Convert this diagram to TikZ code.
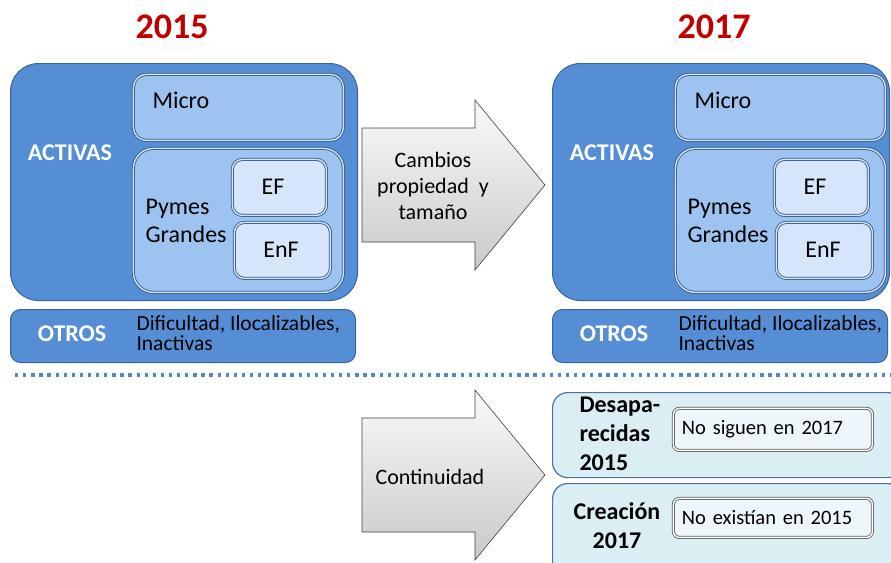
\documentclass[tikz,border=0pt]{standalone}
\usepackage{fontspec}
\setmainfont{Carlito}
\usetikzlibrary{positioning}

\definecolor{rojo}{RGB}{192,0,0}
\definecolor{azulfondo}{RGB}{85,142,213}
\definecolor{azulborde}{RGB}{58,98,156}
\definecolor{azulmedio}{RGB}{157,195,240}
\definecolor{azulclaro}{RGB}{214,229,249}
\definecolor{celeste}{RGB}{219,238,244}
\definecolor{celesteclaro}{RGB}{237,247,251}
\definecolor{puntos}{RGB}{79,134,204}

\tikzset{
  titulo/.style={text=rojo, font=\fontsize{36}{40}\selectfont\bfseries},
  caja/.style={draw=azulborde, line width=1pt, fill=azulfondo, anchor=north west, inner sep=0pt},
  subcaja/.style={draw=azulborde!85!black, line width=0.8pt, double=white!55!azulmedio,
    double distance=1.4pt, anchor=north west, inner sep=0pt},
  blanco/.style={text=white, font=\fontsize{24}{28}\selectfont\bfseries},
  txt/.style={font=\fontsize{24}{28}\selectfont, align=left},
  flecha/.style={draw=black!75, line width=0.6pt, top color=gray!4, bottom color=gray!42},
}

\begin{document}
\begin{tikzpicture}[x=1pt, y=-1pt]
  \useasboundingbox (0,0) rectangle (891,562);
  \clip (0,0) rectangle (891,562);

  % 1. paneles 2015 y 2017
  \foreach \dx/\w/\yr in {0/347/2015, 542/337/2017} {
    \node[titulo] (tit\yr) at (\dx+172, 27) {\yr};
    \node[caja, rounded corners=28pt, minimum width=\w, minimum height=237] (act\yr) at (\dx+10, 63) {};
    \node[blanco] (activas\yr) at (\dx+70, 153) {ACTIVAS};
    \node[subcaja, rounded corners=13pt, fill=azulmedio, minimum width=210, minimum height=66] (micro\yr) at (\dx+133, 74) {};
    \node[txt, anchor=west] (microtxt\yr) at (\dx+149, 100) {Micro};
    \node[subcaja, rounded corners=20pt, fill=azulmedio, minimum width=210, minimum height=144] (pymes\yr) at (\dx+133, 148) {};
    \node[txt, anchor=west] (pymestxt\yr) at (\dx+142, 221) {Pymes\\Grandes};
    \node[subcaja, rounded corners=10pt, fill=azulclaro, minimum width=94, minimum height=56] (ef\yr) at (\dx+232, 159) {};
    \node[txt] (eftxt\yr) at (\dx+273, 187) {EF};
    \node[subcaja, rounded corners=10pt, fill=azulclaro, minimum width=96, minimum height=56] (enf\yr) at (\dx+234, 222) {};
    \node[txt] (enftxt\yr) at (\dx+281, 250) {EnF};
    \node[caja, rounded corners=10pt, minimum width=\w-2, minimum height=53] (otros\yr) at (\dx+10, 309) {};
    \node[blanco] (otrostxt\yr) at (\dx+72, 334) {OTROS};
    \node[font=\fontsize{21.5}{20.5}\selectfont, align=left, anchor=west] (difi\yr) at (\dx+133, 333)
      {Dificultad, Ilocalizables,\\Inactivas};
  }

  % 2. flechas grises
  \foreach \yc in {185, 475} {
    \draw[flecha] (362,\yc-57) -- (475,\yc-57) -- (475,\yc-85) -- (545,\yc)
      -- (475,\yc+85) -- (475,\yc+57) -- (362,\yc+57) -- cycle;
  }
  \node[font=\fontsize{22}{26}\selectfont, align=center] (cambios) at (433, 186) {Cambios\\propiedad\ \ y\\tamaño};
  \node[font=\fontsize{22}{26}\selectfont, anchor=west] (cont) at (372, 477) {Continuidad};

  % 3. separador punteado
  \draw[puntos, line width=3.3pt, dash pattern=on 3.3pt off 4.8pt] (15,375) -- (891,375);

  % 4. altas y bajas
  \node[caja, fill=celeste, draw=azulborde!90, line width=1.2pt, rounded corners=15pt,
    minimum width=350, minimum height=85] (desap) at (552, 392) {};
  \node[font=\fontsize{24}{29}\selectfont\bfseries, align=left, anchor=west] (desaptxt) at (576, 434)
    {Desapa-\\recidas\\2015};
  \node[subcaja, fill=celesteclaro, draw=black!65, double=white, rounded corners=6pt,
    minimum width=199, minimum height=42] (nosiguen) at (673, 408) {};
  \node[font=\fontsize{20.5}{24}\selectfont, text width=182, align=left] (nosiguentxt) at (nosiguen.center) {No siguen en 2017};
  \node[caja, fill=celeste, draw=azulborde!90, line width=1.2pt, rounded corners=15pt,
    minimum width=350, minimum height=100] (creac) at (552, 483) {};
  \node[font=\fontsize{24}{29}\selectfont\bfseries, align=center] (creactxt) at (617, 526)
    {Creación\\2017};
  \node[subcaja, fill=celesteclaro, draw=black!65, double=white, rounded corners=6pt,
    minimum width=199, minimum height=39] (noexist) at (673, 498) {};
  \node[font=\fontsize{20.5}{24}\selectfont, text width=182, align=left] (noexisttxt) at (noexist.center) {No existían en 2015};
\end{tikzpicture}
\end{document}
